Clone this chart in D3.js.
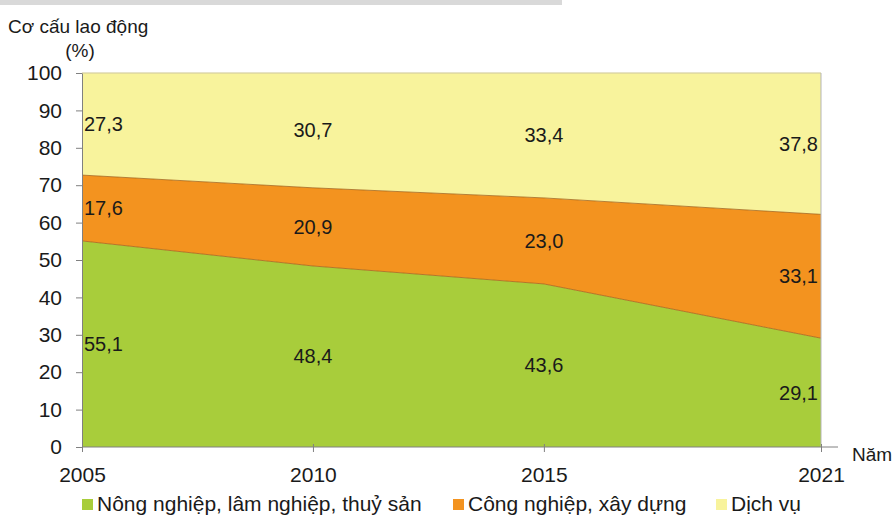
<!DOCTYPE html>
<html>
<head>
<meta charset="utf-8">
<script src="https://cdn.jsdelivr.net/npm/d3@7"></script>
<style>
  html, body { margin: 0; padding: 0; background: #fff; }
  svg { display: block; font-family: "Liberation Sans", Arial, sans-serif; }
</style>
</head>
<body>
<svg id="chart" width="894" height="518"></svg>
<script>
const years = [2005, 2010, 2015, 2021];
const seriesNames = ["Nông nghiệp, lâm nghiệp, thuỷ sản", "Công nghiệp, xây dựng", "Dịch vụ"];
const agriculture = [55.1, 48.4, 43.6, 29.1];
const industry = [17.6, 20.9, 23.0, 33.1];
const services = [27.3, 30.7, 33.4, 37.8];
const yTicks = [0, 10, 20, 30, 40, 50, 60, 70, 80, 90, 100];
const colors = ["#a8cd3b", "#f3931f", "#f8f39c"];

(function () {
const svg = d3.select("#chart");
const mLeft = 82, mRight = 821, mTop = 73, mBottom = 447;

const x = d3.scaleLinear().domain([2005, 2021]).range([mLeft, mRight]);
const y = d3.scaleLinear().domain([0, 100]).range([mBottom, mTop]);

const table = years.map((yr, i) => ({ year: yr, s0: agriculture[i], s1: industry[i], s2: services[i] }));
const stacked = d3.stack().keys(["s0", "s1", "s2"])(table);

// top grey strip
svg.append("rect").attr("x", 0).attr("y", 0).attr("width", 562).attr("height", 5).attr("fill", "#d9d9d9");

const area = d3.area().x(d => x(d.data.year)).y0(d => y(d[0])).y1(d => y(d[1]));
svg.append("g").selectAll("path").data(stacked).join("path")
  .attr("d", area).attr("fill", (d, i) => colors[i]);

// boundary lines
const line = d3.line().x(d => x(d.data.year)).y(d => y(d[1]));
svg.append("g").selectAll("path").data(stacked).join("path")
  .attr("d", line).attr("fill", "none")
  .attr("stroke", (d, i) => i < 2 ? "#a5661c" : "#d6d0a0")
  .attr("stroke-width", (d, i) => i < 2 ? 1 : 1.5)
  .attr("stroke-opacity", 0.8);

// right edge
svg.append("line").attr("x1", x(2021)).attr("x2", x(2021)).attr("y1", y(100)).attr("y2", y(0))
  .attr("stroke", "#b5b5b5").attr("stroke-width", 1);

// axes
const yAxis = d3.axisLeft(y).tickValues(yTicks).tickSize(6).tickSizeOuter(0).tickPadding(14);
const gy = svg.append("g").attr("transform", `translate(${mLeft},0)`).call(yAxis);
gy.select(".domain").attr("stroke", "#808080");
gy.selectAll(".tick line").attr("stroke", "#808080");
gy.selectAll(".tick text").attr("font-size", 21).attr("fill", "#1a1a1a").attr("font-family", "Liberation Sans, Arial, sans-serif");

const xAxis = d3.axisBottom(x).tickValues(years).tickFormat(d3.format("d")).tickSize(5).tickSizeOuter(0).tickPadding(15);
const gx = svg.append("g").attr("transform", `translate(0,${mBottom})`).call(xAxis);
gx.select(".domain").remove();
gx.append("line").attr("x1", mLeft).attr("x2", 838).attr("y1", 0).attr("y2", 0).attr("stroke", "#808080");
gx.selectAll(".tick line").attr("stroke", "#808080").attr("y1", -3);
gx.selectAll(".tick text").attr("font-size", 21).attr("fill", "#1a1a1a").attr("font-family", "Liberation Sans, Arial, sans-serif");

svg.append("text").attr("x", 852).attr("y", 461).attr("font-size", 19).attr("fill", "#1a1a1a").text("Năm");

// titles
svg.append("text").attr("x", 8).attr("y", 33).attr("font-size", 19).attr("fill", "#1a1a1a").text("Cơ cấu lao động");
svg.append("text").attr("x", 80).attr("y", 57).attr("font-size", 19).attr("fill", "#1a1a1a").attr("text-anchor", "middle").text("(%)");

// data labels
const fmt = v => d3.format(".1f")(v).replace(".", ",");
const lastIdx = years.length - 1;
stacked.forEach((s) => {
  svg.append("g").selectAll("text").data(s).join("text")
    .attr("x", (d, i) => i === 0 ? x(d.data.year) + 2 : i === lastIdx ? x(d.data.year) - 3 : x(d.data.year))
    .attr("y", d => y((d[0] + d[1]) / 2))
    .attr("dy", "0.35em")
    .attr("text-anchor", (d, i) => i === 0 ? "start" : i === lastIdx ? "end" : "middle")
    .attr("font-size", 20).attr("fill", "#1a1a1a")
    .text(d => fmt(d[1] - d[0]));
});

// legend
const legendX = [82, 453, 716];
const lg = svg.append("g").selectAll("g").data(seriesNames).join("g")
  .attr("transform", (d, i) => `translate(${legendX[i]},499)`);
lg.append("rect").attr("width", 11).attr("height", 11).attr("fill", (d, i) => colors[i]);
lg.append("text").attr("x", 15).attr("y", 12).attr("font-size", 21).attr("fill", "#1a1a1a").text(d => d);
})();
</script>
</body>
</html>
